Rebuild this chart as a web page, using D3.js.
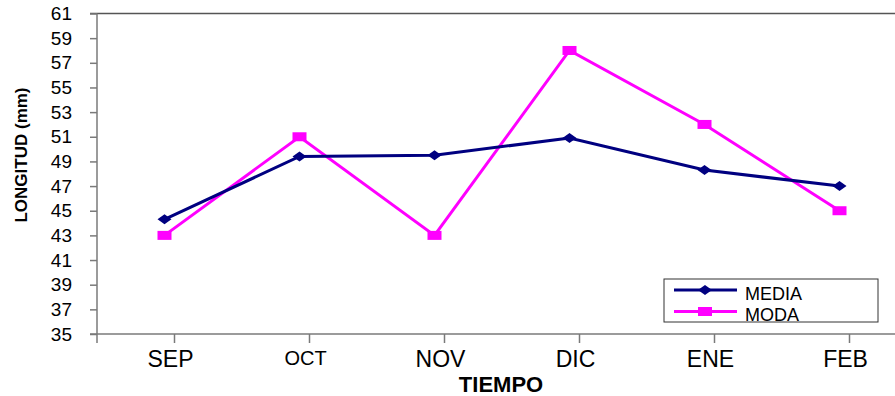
<!DOCTYPE html>
<html>
<head>
<meta charset="utf-8">
<script src="https://cdn.jsdelivr.net/npm/d3@7"></script>
<style>
  html, body { margin: 0; padding: 0; background: #fff; }
  svg { display: block; font-family: "Liberation Sans", Arial, sans-serif; }
</style>
</head>
<body>
<svg id="chart" width="895" height="396"></svg>
<script>
const categories = ["SEP", "OCT", "NOV", "DIC", "ENE", "FEB"];
const mediaValues = [44.3, 49.4, 49.5, 50.9, 48.3, 47.0];
const modaValues = [43, 51, 43, 58, 52, 45];
const yTickValues = [35, 37, 39, 41, 43, 45, 47, 49, 51, 53, 55, 57, 59, 61];
const seriesNames = ["MEDIA", "MODA"];

const svg = d3.select("#chart");
const axisColor = "#7a7a7a";

const x = d3.scaleBand().domain(categories).range([97, 907]).padding(0);
const cx = d => x(d) + x.bandwidth() / 2;
const y = d3.scaleLinear().domain([35, 61]).range([334, 13.5]);

// top border of plot area
svg.append("line")
  .attr("x1", 90).attr("x2", 895)
  .attr("y1", y(61)).attr("y2", y(61))
  .attr("stroke", "#555").attr("stroke-width", 1.5);

// Y axis
const yAxis = svg.append("g")
  .attr("transform", "translate(97,0)")
  .call(d3.axisLeft(y).tickValues(yTickValues).tickSize(7).tickPadding(18).tickFormat(d3.format("d")));
yAxis.select(".domain").attr("stroke", axisColor).attr("stroke-width", 1.5)
  .attr("d", `M0,${y(61)}V${y(35) + 9}`);
yAxis.selectAll(".tick line").attr("stroke", axisColor).attr("stroke-width", 1.5);
yAxis.selectAll(".tick text").attr("fill", "#000").style("font-size", "19px");

// X axis line
svg.append("line")
  .attr("x1", 90).attr("x2", 895)
  .attr("y1", y(35)).attr("y2", y(35))
  .attr("stroke", axisColor).attr("stroke-width", 1.5);

// X axis ticks & labels
const xAxis = svg.append("g")
  .attr("transform", `translate(10,${y(35)})`)
  .call(d3.axisBottom(x).tickSize(9).tickPadding(8).tickSizeOuter(0));
xAxis.select(".domain").remove();
xAxis.selectAll(".tick line").attr("stroke", axisColor).attr("stroke-width", 1.5);
xAxis.selectAll(".tick text")
  .attr("fill", "#000")
  .attr("dx", -4)
  .style("font-size", d => d === "OCT" ? "20px" : "23px");

// Axis titles
svg.append("text")
  .attr("x", 501).attr("y", 392)
  .attr("text-anchor", "middle")
  .style("font-size", "22px").style("font-weight", "bold")
  .text("TIEMPO");
svg.append("text")
  .attr("transform", "translate(27,155) rotate(-90)")
  .attr("text-anchor", "middle")
  .style("font-size", "17px").style("font-weight", "bold")
  .text("LONGITUD (mm)");

const line = d3.line().x((d, i) => cx(categories[i])).y(d => y(d));

const mediaColor = "#000080";
const modaColor = "#ff00ff";

const diamond = (px, py) => `M${px - 7},${py}L${px},${py - 5}L${px + 7},${py}L${px},${py + 5}Z`;

// MODA series
svg.append("path").datum(modaValues)
  .attr("d", line).attr("fill", "none")
  .attr("stroke", modaColor).attr("stroke-width", 3);
svg.selectAll(".moda-pt").data(modaValues).enter().append("rect")
  .attr("class", "moda-pt")
  .attr("x", (d, i) => cx(categories[i]) - 7)
  .attr("y", d => y(d) - 4.5)
  .attr("width", 14).attr("height", 9)
  .attr("fill", modaColor);

// MEDIA series
svg.append("path").datum(mediaValues)
  .attr("d", line).attr("fill", "none")
  .attr("stroke", mediaColor).attr("stroke-width", 3);
svg.selectAll(".media-pt").data(mediaValues).enter().append("path")
  .attr("class", "media-pt")
  .attr("d", (d, i) => diamond(cx(categories[i]), y(d)))
  .attr("fill", mediaColor);

// Legend
const lg = svg.append("g");
lg.append("rect")
  .attr("x", 664).attr("y", 279).attr("width", 214).attr("height", 43)
  .attr("fill", "#fff").attr("stroke", "#333").attr("stroke-width", 1);
const legendItems = [
  { name: seriesNames[0], color: mediaColor, ly: 290, marker: "diamond" },
  { name: seriesNames[1], color: modaColor, ly: 311.5, marker: "square" }
];
legendItems.forEach(it => {
  lg.append("line").attr("x1", 674).attr("x2", 737)
    .attr("y1", it.ly).attr("y2", it.ly)
    .attr("stroke", it.color).attr("stroke-width", 3);
  if (it.marker === "diamond") {
    lg.append("path").attr("d", diamond(705, it.ly)).attr("fill", it.color);
  } else {
    lg.append("rect").attr("x", 698).attr("y", it.ly - 4.5)
      .attr("width", 14).attr("height", 9).attr("fill", it.color);
  }
  lg.append("text").attr("x", 745).attr("y", it.ly + 9.5)
    .style("font-size", "18px").attr("fill", "#000").text(it.name);
});
</script>
</body>
</html>
